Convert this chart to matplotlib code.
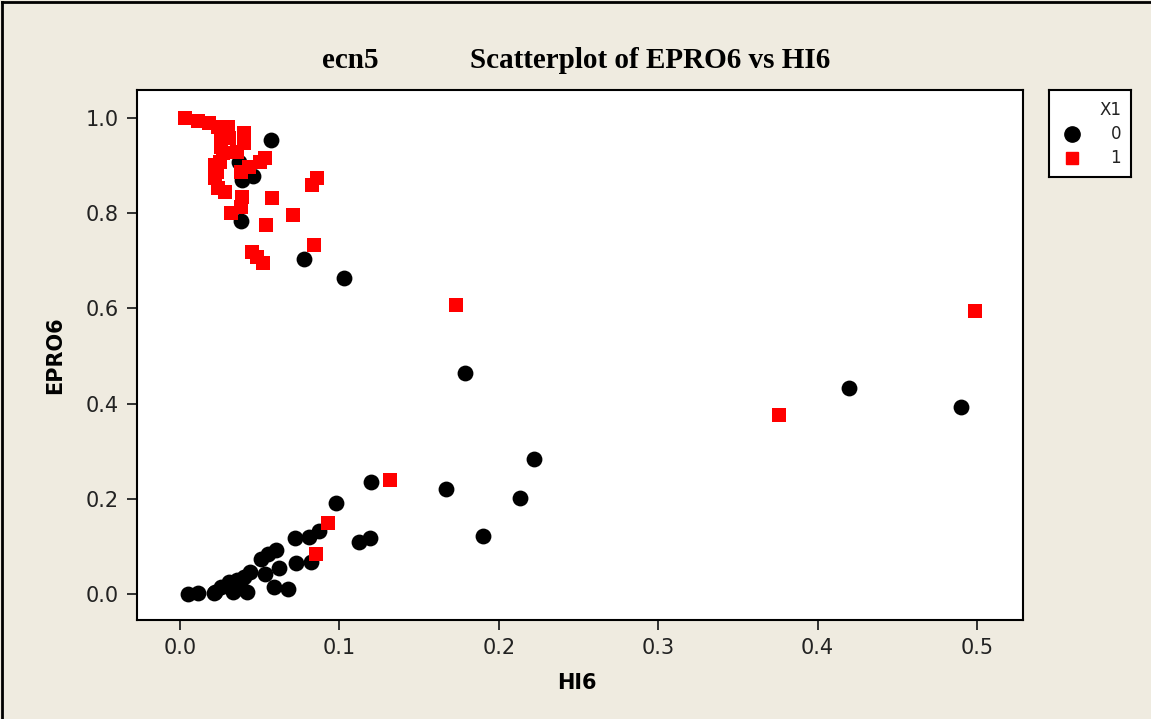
import matplotlib
matplotlib.use("Agg")
import matplotlib.pyplot as plt
from matplotlib.lines import Line2D

# group X1 = 0 (black circles)
hi6_0 = [0.057, 0.037, 0.046, 0.039, 0.038, 0.078, 0.103, 0.179, 0.420, 0.490,
         0.222, 0.120, 0.167, 0.213, 0.190, 0.098, 0.087, 0.081, 0.072, 0.112,
         0.119, 0.082, 0.073, 0.060, 0.055, 0.051, 0.062, 0.053, 0.044, 0.040,
         0.036, 0.031, 0.026, 0.022, 0.033, 0.042, 0.059, 0.068, 0.005, 0.0115,
         0.021, 0.038]
epro6_0 = [0.954, 0.908, 0.878, 0.870, 0.784, 0.703, 0.664, 0.464, 0.433, 0.393,
           0.284, 0.236, 0.221, 0.202, 0.122, 0.192, 0.133, 0.120, 0.117, 0.110,
           0.117, 0.068, 0.066, 0.092, 0.085, 0.073, 0.054, 0.043, 0.047, 0.036,
           0.029, 0.026, 0.015, 0.005, 0.005, 0.005, 0.015, 0.010, 0.000, 0.003,
           0.002, 0.013]

# group X1 = 1 (red squares)
hi6_1 = [0.003, 0.0115, 0.018, 0.024, 0.030, 0.040, 0.026, 0.031, 0.040, 0.026,
         0.036, 0.027, 0.025, 0.053, 0.050, 0.022, 0.043, 0.038, 0.023, 0.022,
         0.086, 0.083, 0.024, 0.028, 0.039, 0.058, 0.038, 0.032, 0.071, 0.054,
         0.084, 0.045, 0.048, 0.052, 0.173, 0.499, 0.376, 0.132, 0.0927, 0.085]
epro6_1 = [1.000, 0.994, 0.990, 0.982, 0.982, 0.968, 0.961, 0.957, 0.947, 0.940,
           0.929, 0.926, 0.908, 0.915, 0.908, 0.901, 0.898, 0.887, 0.887, 0.873,
           0.873, 0.859, 0.852, 0.845, 0.835, 0.831, 0.814, 0.800, 0.796, 0.775,
           0.733, 0.719, 0.709, 0.695, 0.607, 0.595, 0.376, 0.240, 0.150, 0.083]

xticks = [0.0, 0.1, 0.2, 0.3, 0.4, 0.5]
yticks = [0.0, 0.2, 0.4, 0.6, 0.8, 1.0]

bg = "#EFEBE0"
fig = plt.figure(figsize=(11.51, 7.19), dpi=100, facecolor=bg)
W, H = 1151, 719
ax = fig.add_axes([137 / W, 1 - 620 / H, (1023 - 137) / W, (620 - 90) / H])
ax.set_facecolor("white")

ax.scatter(hi6_0, epro6_0, s=130, marker="o", color="black", linewidths=0, zorder=3)
ax.scatter(hi6_1, epro6_1, s=110, marker="s", color="#FF0000", linewidths=0, zorder=3)

ax.set_xlim(-0.027, 0.5289)
ax.set_ylim(-0.0546, 1.0588)
ax.set_xticks(xticks)
ax.set_yticks(yticks)
ax.set_xticklabels([f"{v:.1f}" for v in xticks])
ax.set_yticklabels([f"{v:.1f}" for v in yticks])
ax.tick_params(direction="out", length=7, width=1.3, labelsize=15, colors="#222222", pad=6)
for sp in ax.spines.values():
    sp.set_linewidth(1.5)
    sp.set_color("black")

ax.set_xlabel("HI6", fontsize=15, fontweight="bold")
ax.set_ylabel("EPRO6", fontsize=15, fontweight="bold")
ax.xaxis.set_label_coords((577 - 137) / 886, (620 - 683) / 530)
ax.xaxis.label.set_va("center")
ax.yaxis.set_label_coords((55 - 137) / 886, (620 - 355) / 530)
ax.yaxis.label.set_va("center")

fig.text(350 / W, 1 - 60 / H, "ecn5", family="Liberation Serif", fontweight="bold",
         fontsize=21, ha="center", va="center")
fig.text(650 / W, 1 - 60 / H, "Scatterplot of EPRO6 vs HI6", family="Liberation Serif",
         fontweight="bold", fontsize=21, ha="center", va="center")

# legend box
lax = fig.add_axes([1049 / W, 1 - 177 / H, (1131 - 1049) / W, (177 - 90) / H])
lax.set_xlim(0, 82)
lax.set_ylim(87, 0)
lax.set_xticks([])
lax.set_yticks([])
lax.set_facecolor("white")
for sp in lax.spines.values():
    sp.set_linewidth(1.5)
lax.text(72, 20, "X1", fontsize=12, ha="right", va="center", color="#222222")
lax.plot([23], [44], marker="o", color="black", markersize=11, linestyle="none")
lax.text(72, 44, "0", fontsize=12, ha="right", va="center", color="#222222")
lax.plot([23], [68], marker="s", color="#FF0000", markersize=9, linestyle="none")
lax.text(72, 68, "1", fontsize=12, ha="right", va="center", color="#222222")

# outer frame line
fig.add_artist(Line2D([2 / W, 1], [1 - 2 / H, 1 - 2 / H], color="black", lw=2, transform=fig.transFigure))
fig.add_artist(Line2D([2 / W, 2 / W], [0, 1 - 2 / H], color="black", lw=2, transform=fig.transFigure))

fig.savefig("out.png", dpi=100, facecolor=bg)
